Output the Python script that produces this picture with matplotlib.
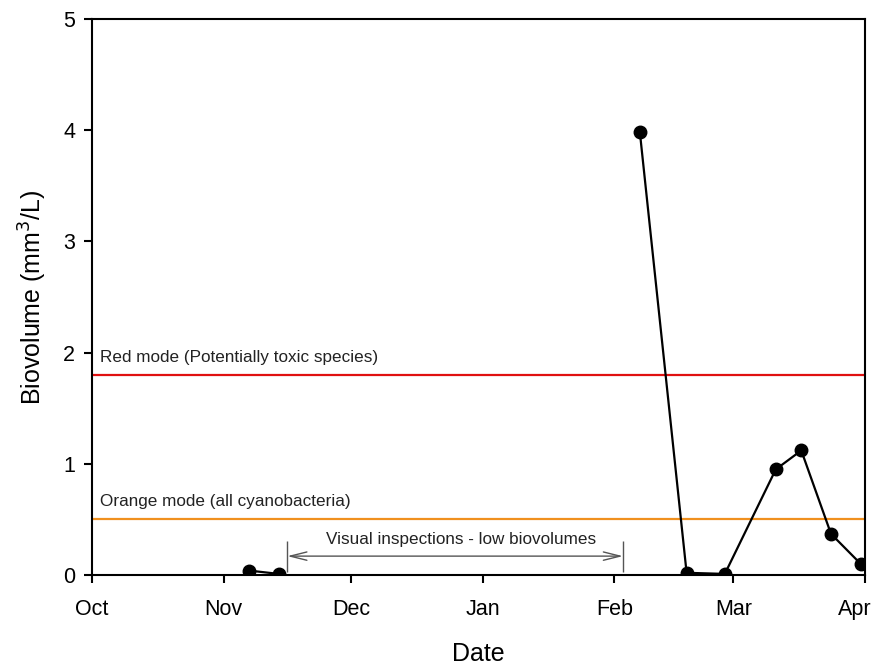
import numpy as np
import pandas as pd
import matplotlib
matplotlib.use("Agg")
import matplotlib.pyplot as plt
import matplotlib.dates as mdates
from matplotlib.transforms import ScaledTranslation

plt.rcParams['font.family'] = ['Liberation Sans', 'DejaVu Sans']

# amostragens de biovolume (mm3/L) - novembro e depois fev/mar
datas_nov = pd.to_datetime(['2017-11-07', '2017-11-14'])
bio_nov = [0.04, 0.01]
datas_fev = pd.to_datetime(['2018-02-07', '2018-02-18', '2018-02-27',
                            '2018-03-11', '2018-03-17', '2018-03-24',
                            '2018-03-31'])
bio_fev = [3.98, 0.02, 0.01, 0.95, 1.12, 0.37, 0.10]

# limites de alerta
limite_vermelho = 1.8
limite_laranja = 0.5

# periodo de inspecoes visuais
inspecao_ini = pd.Timestamp('2017-11-16')
inspecao_fim = pd.Timestamp('2018-02-03')

meses = pd.date_range('2017-10-01', '2018-04-01', freq='MS')

fig = plt.figure(figsize=(8.77, 6.66), dpi=100)
ax = fig.add_axes([0.1049, 0.1366, 0.8814, 0.8349])

ax.axhline(limite_vermelho, color='#e01010', lw=1.6, zorder=1)
ax.axhline(limite_laranja, color='#f0901e', lw=1.6, zorder=1)

# sem ligacao entre os dois periodos de coleta
for d, v in [(datas_nov, bio_nov), (datas_fev, bio_fev)]:
    ax.plot(d, v, color='black', lw=1.6, marker='o', markersize=9, zorder=3)

ax.text(pd.Timestamp('2017-10-03'), limite_vermelho + 0.09,
        'Red mode (Potentially toxic species)', fontsize=12.3, color='#222222',
        va='bottom', ha='left')
ax.text(pd.Timestamp('2017-10-03'), limite_laranja + 0.09,
        'Orange mode (all cyanobacteria)', fontsize=12.3, color='#222222',
        va='bottom', ha='left')

# seta das inspecoes visuais
ax.annotate('', xy=(inspecao_ini, 0.17), xytext=(inspecao_fim, 0.17),
            arrowprops=dict(arrowstyle='<->,head_length=1.2,head_width=0.3',
                            color='#555555', lw=1.0, shrinkA=0, shrinkB=0))
ax.vlines([inspecao_ini, inspecao_fim], 0.03, 0.31, color='#555555', lw=1.0)
ax.text(pd.Timestamp('2017-12-27'), 0.25,
        'Visual inspections - low biovolumes', fontsize=12.3, color='#222222',
        ha='center', va='bottom')

ax.set_xlim(meses[0], meses[-1])
ax.set_ylim(0, 5)
ax.set_xticks(meses)
ax.xaxis.set_major_formatter(mdates.DateFormatter('%b'))
ax.set_yticks(np.arange(0, 6, 1))

for s in ax.spines.values():
    s.set_linewidth(1.5)
ax.tick_params(axis='both', direction='out', length=6, width=1.5,
               labelsize=15.5, top=False, right=False)
ax.tick_params(axis='x', pad=11)
ax.tick_params(axis='y', pad=6)

# ultimo rotulo (Apr) puxado um pouco para a esquerda
fig.canvas.draw()
ult = ax.get_xticklabels()[-1]
ult.set_transform(ult.get_transform() + ScaledTranslation(-7 / 72, 0, fig.dpi_scale_trans))

ax.set_xlabel('Date', fontsize=18, labelpad=16)
ax.set_ylabel('Biovolume (mm$^3$/L)', fontsize=18, labelpad=10)

plt.savefig('out.png', dpi=100)
